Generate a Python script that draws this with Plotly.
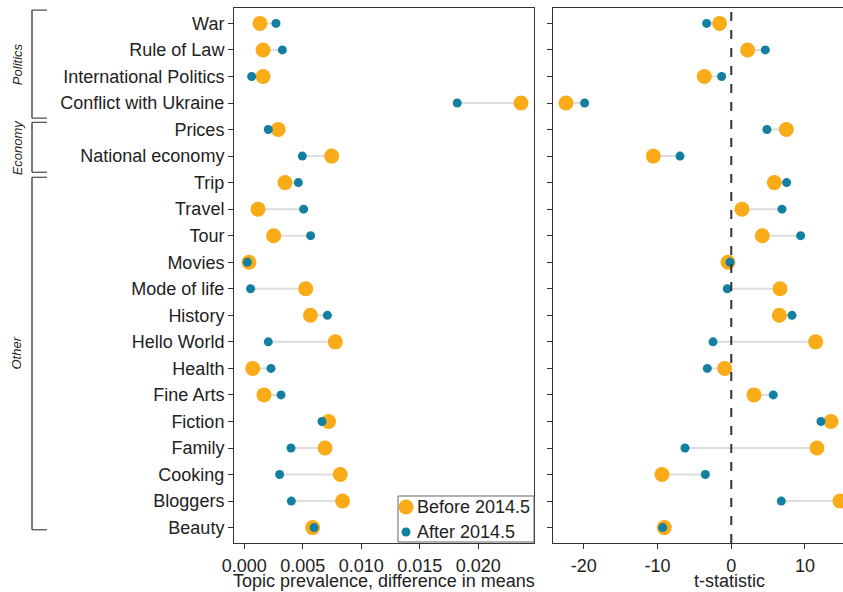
import plotly.graph_objects as go

# Topics, top to bottom
topics = [
    "War", "Rule of Law", "International Politics", "Conflict with Ukraine",
    "Prices", "National economy",
    "Trip", "Travel", "Tour", "Movies", "Mode of life", "History", "Hello World",
    "Health", "Fine Arts", "Fiction", "Family", "Cooking", "Bloggers", "Beauty",
]

# Topic prevalence, difference in means
prev_before = [0.00134, 0.00160, 0.00160, 0.02365, 0.00290, 0.00747,
               0.00348, 0.00117, 0.00251, 0.00040, 0.00525, 0.00565, 0.00778,
               0.00072, 0.00168, 0.00720, 0.00690, 0.00820, 0.00840, 0.00584]
prev_after = [0.00271, 0.00325, 0.00063, 0.01820, 0.00205, 0.00496,
              0.00462, 0.00507, 0.00567, 0.00026, 0.00054, 0.00710, 0.00205,
              0.00228, 0.00314, 0.00664, 0.00399, 0.00302, 0.00402, 0.00596]

# t-statistics
t_before = [-1.58, 2.22, -3.66, -22.43, 7.47, -10.58,
            5.84, 1.45, 4.21, -0.45, 6.61, 6.52, 11.45,
            -0.90, 3.08, 13.53, 11.63, -9.40, 14.75, -9.09]
t_after = [-3.34, 4.62, -1.31, -19.90, 4.84, -6.96,
           7.51, 6.88, 9.41, -0.18, -0.54, 8.24, -2.48,
           -3.25, 5.70, 12.17, -6.28, -3.52, 6.79, -9.31]

# Topic groups: (label, first topic, last topic)
groups = [("Politics", "War", "Conflict with Ukraine"),
          ("Economy", "Prices", "National economy"),
          ("Other", "Trip", "Beauty")]

series_names = ["Before 2014.5", "After 2014.5"]

left_ticks = [0.0, 0.005, 0.010, 0.015, 0.020]
left_ticktext = ["0.000", "0.005", "0.010", "0.015", "0.020"]
right_ticks = [-20, -10, 0, 10]
right_ticktext = ["-20", "-10", "0", "10"]

ORANGE = "#FAAB18"
TEAL = "#1380A1"
SEG = "#DDDDDD"
INK = "#222222"
FRAME = "#333333"
FONT = "Liberation Sans, Arial, sans-serif"
FS = 18
SIZE_BEFORE, SIZE_AFTER = 15, 9

W, H = 843, 592


def px(x):
    return x / W


def py(y):
    return 1 - y / H


def segments(a, b):
    xs, ys = [], []
    for t, u, v in zip(topics, a, b):
        xs += [u, v, None]
        ys += [t, t, None]
    return xs, ys


fig = go.Figure()

for xa, ya, before, after in (("x", "y", prev_before, prev_after),
                               ("x2", "y2", t_before, t_after)):
    sx, sy = segments(before, after)
    fig.add_trace(go.Scatter(x=sx, y=sy, mode="lines", xaxis=xa, yaxis=ya,
                             line=dict(color=SEG, width=2), hoverinfo="skip",
                             showlegend=False))
    fig.add_trace(go.Scatter(x=before, y=topics, mode="markers", xaxis=xa, yaxis=ya,
                             name=series_names[0], showlegend=False,
                             marker=dict(color=ORANGE, size=SIZE_BEFORE)))
    fig.add_trace(go.Scatter(x=after, y=topics, mode="markers", xaxis=xa, yaxis=ya,
                             name=series_names[1], showlegend=False,
                             marker=dict(color=TEAL, size=SIZE_AFTER)))

ydom = [py(543), py(8)]
yrange = [len(topics) - 1 + 0.58, -0.58]

common_axis = dict(showgrid=False, zeroline=False, showline=True, linecolor=FRAME,
                   linewidth=1, ticks="outside", ticklen=5, tickcolor=FRAME,
                   tickwidth=1, automargin=False, tickfont=dict(size=FS, color=INK))

fig.update_layout(
    width=W, height=H,
    margin=dict(l=0, r=0, t=0, b=0),
    paper_bgcolor="white", plot_bgcolor="white",
    font=dict(family=FONT, size=FS, color=INK),
    xaxis=dict(domain=[px(234), px(534)], range=[-0.00088, 0.02476],
               tickvals=left_ticks, ticktext=left_ticktext, mirror=True,
               anchor="y", ticklabelstandoff=1, **common_axis),
    yaxis=dict(domain=ydom, range=yrange, type="category",
               categoryorder="array", categoryarray=topics, mirror=True,
               anchor="x", **common_axis),
    xaxis2=dict(domain=[px(552.7), 1.0], range=[-24.23, 15.16],
                tickvals=right_ticks, ticktext=right_ticktext, mirror=True,
                anchor="y2", ticklabelstandoff=1, **common_axis),
    yaxis2=dict(domain=ydom, range=yrange, type="category",
                categoryorder="array", categoryarray=topics, showticklabels=False,
                mirror=False, anchor="x2", **common_axis),
    showlegend=False,
)

# zero reference line on the t-statistic panel
fig.add_shape(type="line", xref="x2", yref="paper", x0=0, x1=0,
              y0=ydom[0], y1=ydom[1], line=dict(color=FRAME, width=2, dash="dash"))

# axis titles
fig.add_annotation(text="Topic prevalence, difference in means", xref="paper",
                   yref="paper", x=px(384), y=py(581), showarrow=False,
                   font=dict(size=FS, color=INK), xanchor="center", yanchor="middle")
fig.add_annotation(text="t-statistic", xref="paper", yref="paper", x=px(729),
                   y=py(581), showarrow=False, font=dict(size=FS, color=INK),
                   xanchor="center", yanchor="middle")

# compact key in the lower right corner of the left panel
fig.add_shape(type="rect", xref="paper", yref="paper", x0=px(398), x1=px(534),
              y0=py(542), y1=py(496), fillcolor="white",
              line=dict(color="#666666", width=1))
for name, color, size, ycen in ((series_names[0], ORANGE, SIZE_BEFORE, 507),
                                (series_names[1], TEAL, SIZE_AFTER, 532)):
    fig.add_shape(type="circle", xref="paper", yref="paper",
                  xsizemode="pixel", ysizemode="pixel",
                  xanchor=px(406), yanchor=py(ycen),
                  x0=-size / 2, x1=size / 2, y0=-size / 2, y1=size / 2,
                  fillcolor=color, line=dict(width=0))
    fig.add_annotation(text=name, xref="paper", yref="paper", x=px(415), y=py(ycen),
                       showarrow=False, xanchor="left", yanchor="middle",
                       font=dict(size=FS, color=INK))

# group brackets along the left edge
bracket_pad = {"Politics": (0.5, 0.57), "Economy": (0.27, 0.61), "Other": (0.2, 0.08)}
bx0, bx1 = px(32), px(47)
for label, first, last in groups:
    top_pad, bot_pad = bracket_pad[label]
    y_top = topics.index(first) - top_pad
    y_bot = topics.index(last) + bot_pad
    fig.add_shape(type="line", xref="paper", yref="y", x0=bx0, x1=bx0,
                  y0=y_top, y1=y_bot, line=dict(color=FRAME, width=1.3))
    for yy in (y_top, y_bot):
        fig.add_shape(type="line", xref="paper", yref="y", x0=bx0, x1=bx1,
                      y0=yy, y1=yy, line=dict(color="#555555", width=1.3))
    fig.add_annotation(text=f"<i>{label}</i>", xref="paper", yref="y",
                       x=px(17), y=(y_top + y_bot) / 2, textangle=-90,
                       showarrow=False, font=dict(size=13, color=INK),
                       xanchor="center", yanchor="middle")

fig.write_html("out.html")
